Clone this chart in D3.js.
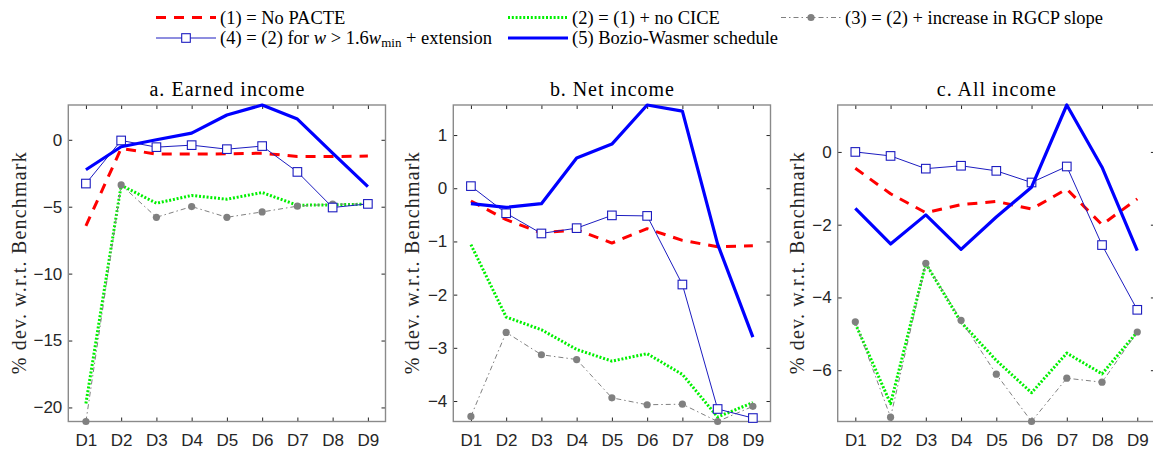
<!DOCTYPE html>
<html><head><meta charset="utf-8">
<script src="https://cdn.jsdelivr.net/npm/d3@7"></script>
<style>body{margin:0;background:#fff;overflow:hidden}</style>
</head><body><svg id="c" width="1153" height="452"></svg>
<script>
const categories = ["D1","D2","D3","D4","D5","D6","D7","D8","D9"];
const panelTitles = ["a.  Earned income","b.  Net income","c.  All income"];
const yLabel = "% dev. w.r.t. Benchmark";

const earnedS1 = [-6.43,-0.65,-1.07,-1.07,-1.05,-1.0,-1.25,-1.25,-1.22];
const earnedS2 = [-19.7,-3.4,-4.74,-4.16,-4.44,-3.94,-4.89,-4.86,-4.81];
const earnedS3 = [-21.05,-3.37,-5.79,-4.99,-5.79,-5.39,-4.96,-4.81,-4.79];
const earnedS4 = [-3.27,-0.05,-0.55,-0.4,-0.7,-0.47,-2.4,-5.06,-4.79];
const earnedS5 = [-2.24,-0.52,0.0,0.5,1.85,2.6,1.55,-1.0,-3.5];

const netS1 = [-0.24,-0.59,-0.84,-0.78,-1.03,-0.76,-0.98,-1.10,-1.08];
const netS2 = [-1.06,-2.42,-2.66,-3.03,-3.25,-3.11,-3.50,-4.30,-4.03];
const netS3 = [-4.29,-2.71,-3.13,-3.22,-3.94,-4.07,-4.06,-4.385,-4.10];
const netS4 = [0.04,-0.47,-0.85,-0.75,-0.51,-0.52,-1.81,-4.15,-4.32];
const netS5 = [-0.29,-0.36,-0.29,0.57,0.83,1.565,1.45,-1.05,-2.80];

const allS1 = [-0.45,-1.15,-1.67,-1.45,-1.36,-1.57,-1.02,-2.0,-1.29];
const allS2 = [-4.72,-6.92,-3.07,-4.68,-5.73,-6.62,-5.53,-6.10,-4.95];
const allS3 = [-4.67,-7.29,-3.06,-4.63,-6.11,-7.41,-6.22,-6.33,-4.95];
const allS4 = [0.0,-0.11,-0.46,-0.38,-0.52,-0.84,-0.40,-2.56,-4.34];
const allS5 = [-1.55,-2.53,-1.73,-2.68,-1.79,-0.97,1.29,-0.42,-2.71];

const earnedTicks = [-20,-15,-10,-5,0];
const netTicks = [-4,-3,-2,-1,0,1];
const allTicks = [-6,-4,-2,0];

const panels = [
  {title: panelTitles[0], series: [earnedS1,earnedS2,earnedS3,earnedS4,earnedS5], ticks: earnedTicks, left: 68.3},
  {title: panelTitles[1], series: [netS1,netS2,netS3,netS4,netS5], ticks: netTicks, left: 453.3},
  {title: panelTitles[2], series: [allS1,allS2,allS3,allS4,allS5], ticks: allTicks, left: 837.7}
];

const styles = [
  {color:"#ff0000", width:3, dash:"10,8", marker:null},
  {color:"#00f000", width:3, dash:"2,1.8", marker:null},
  {color:"#808080", width:1, dash:"5,3,1.5,3", marker:"dot"},
  {color:"#1c1cc0", width:1, dash:null, marker:"square"},
  {color:"#0000ff", width:3.2, dash:null, marker:null}
];

const W = 317.2, topY = 105, bottomY = 421.5;
const svg = d3.select("#c");
const serif = "'Liberation Serif','Times New Roman',serif";
const sans = "'Liberation Sans',Arial,Helvetica,sans-serif";

panels.forEach((p, pi) => {
  const x = d3.scaleLinear().domain([0.5, 9.5]).range([p.left, p.left + W]);
  const all = p.series.flat();
  const y = d3.scaleLinear().domain(d3.extent(all)).range([bottomY, topY]);
  const g = svg.append("g");

  const ax = g.append("g").attr("transform", `translate(${p.left},0)`)
    .call(d3.axisLeft(y).tickValues(p.ticks).tickSize(-4).tickPadding(6).tickFormat(d3.format("d")));
  const ar = g.append("g").attr("transform", `translate(${p.left+W},0)`)
    .call(d3.axisRight(y).tickValues(p.ticks).tickSize(-4).tickFormat(""));
  const ab = g.append("g").attr("transform", `translate(0,${bottomY})`)
    .call(d3.axisBottom(x).tickValues(d3.range(1,10)).tickSize(-4).tickPadding(12).tickFormat(d=>categories[d-1]));
  const at = g.append("g").attr("transform", `translate(0,${topY})`)
    .call(d3.axisTop(x).tickValues(d3.range(1,10)).tickSize(-4).tickFormat(""));
  [ax,ar,ab,at].forEach(a => {
    a.select(".domain").remove();
    a.selectAll("line").attr("stroke","#262626").attr("stroke-width",1);
    a.selectAll("text").attr("font-family", sans).attr("font-size", 17).attr("fill","#262626");
  });
  g.append("rect").attr("x", p.left).attr("y", topY).attr("width", W).attr("height", bottomY-topY)
    .attr("fill","none").attr("stroke","#8a8a8a").attr("stroke-width",1.4);

  g.append("text").attr("x", p.left + W/2).attr("y", 96).attr("text-anchor","middle")
    .attr("font-family", serif).attr("font-size", 20).attr("fill","#000")
    .attr("textLength", pi===0?155:(pi===1?124:119)).attr("lengthAdjust","spacing")
    .text(p.title);

  const lx = pi===0 ? 19 : (p.left - 41);
  g.append("text").attr("transform", `translate(${lx},${(topY+bottomY)/2}) rotate(-90)`)
    .attr("text-anchor","middle").attr("dy","0.35em")
    .attr("font-family", serif).attr("font-size", 20).attr("fill","#262626")
    .attr("textLength", 222).attr("lengthAdjust","spacing")
    .text(yLabel);

  const line = d3.line().x((d,i)=>x(i+1)).y(d=>y(d));
  p.series.forEach((s, si) => {
    const st = styles[si];
    g.append("path").datum(s).attr("d", line).attr("fill","none")
      .attr("stroke", st.color).attr("stroke-width", st.width)
      .attr("stroke-dasharray", st.dash).attr("stroke-linejoin","round");
    if (st.marker === "dot") {
      g.selectAll(null).data(s).enter().append("circle")
        .attr("cx",(d,i)=>x(i+1)).attr("cy",d=>y(d)).attr("r",3.6).attr("fill","#808080");
    } else if (st.marker === "square") {
      g.selectAll(null).data(s).enter().append("rect")
        .attr("x",(d,i)=>x(i+1)-4.3).attr("y",d=>y(d)-4.3).attr("width",8.6).attr("height",8.6)
        .attr("fill","#fff").attr("stroke", st.color).attr("stroke-width",1.1);
    }
  });
});

const legendItems = [
  {s:0, col:0, row:0, label:[{t:"(1) = No PACTE"}]},
  {s:1, col:1, row:0, label:[{t:"(2) = (1) + no CICE"}]},
  {s:2, col:2, row:0, label:[{t:"(3) = (2) + increase in RGCP slope"}]},
  {s:3, col:0, row:1, label:[{t:"(4) = (2) for "},{t:"w",i:true},{t:" > 1.6"},{t:"w",i:true},{t:"min",sub:true},{t:" + extension",up:true}]},
  {s:4, col:1, row:1, label:[{t:"(5) Bozio-Wasmer schedule"}]}
];
const colX = [156, 508, 781], rowY = [17.5, 38];
legendItems.forEach(it => {
  const st = styles[it.s];
  const x0 = colX[it.col], y0 = rowY[it.row];
  const lg = svg.append("g");
  lg.append("line").attr("x1",x0).attr("x2",x0+60).attr("y1",y0).attr("y2",y0)
    .attr("stroke",st.color).attr("stroke-width",st.width).attr("stroke-dasharray",st.dash);
  if (st.marker==="dot") lg.append("circle").attr("cx",x0+30).attr("cy",y0).attr("r",3.6).attr("fill","#808080");
  if (st.marker==="square") lg.append("rect").attr("x",x0+30-4.3).attr("y",y0-4.3).attr("width",8.6).attr("height",8.6)
    .attr("fill","#fff").attr("stroke",st.color).attr("stroke-width",1.1);
  const t = lg.append("text").attr("x", x0+64).attr("y", y0+6)
    .attr("font-family", serif).attr("font-size", 18.5).attr("fill","#000");
  it.label.forEach(part => {
    const ts = t.append("tspan").text(part.t);
    if (part.i) ts.attr("font-style","italic");
    if (part.sub) ts.attr("font-size", 13).attr("dy", 3);
    if (part.up) ts.attr("dy", -3);
  });
});
</script></body></html>
